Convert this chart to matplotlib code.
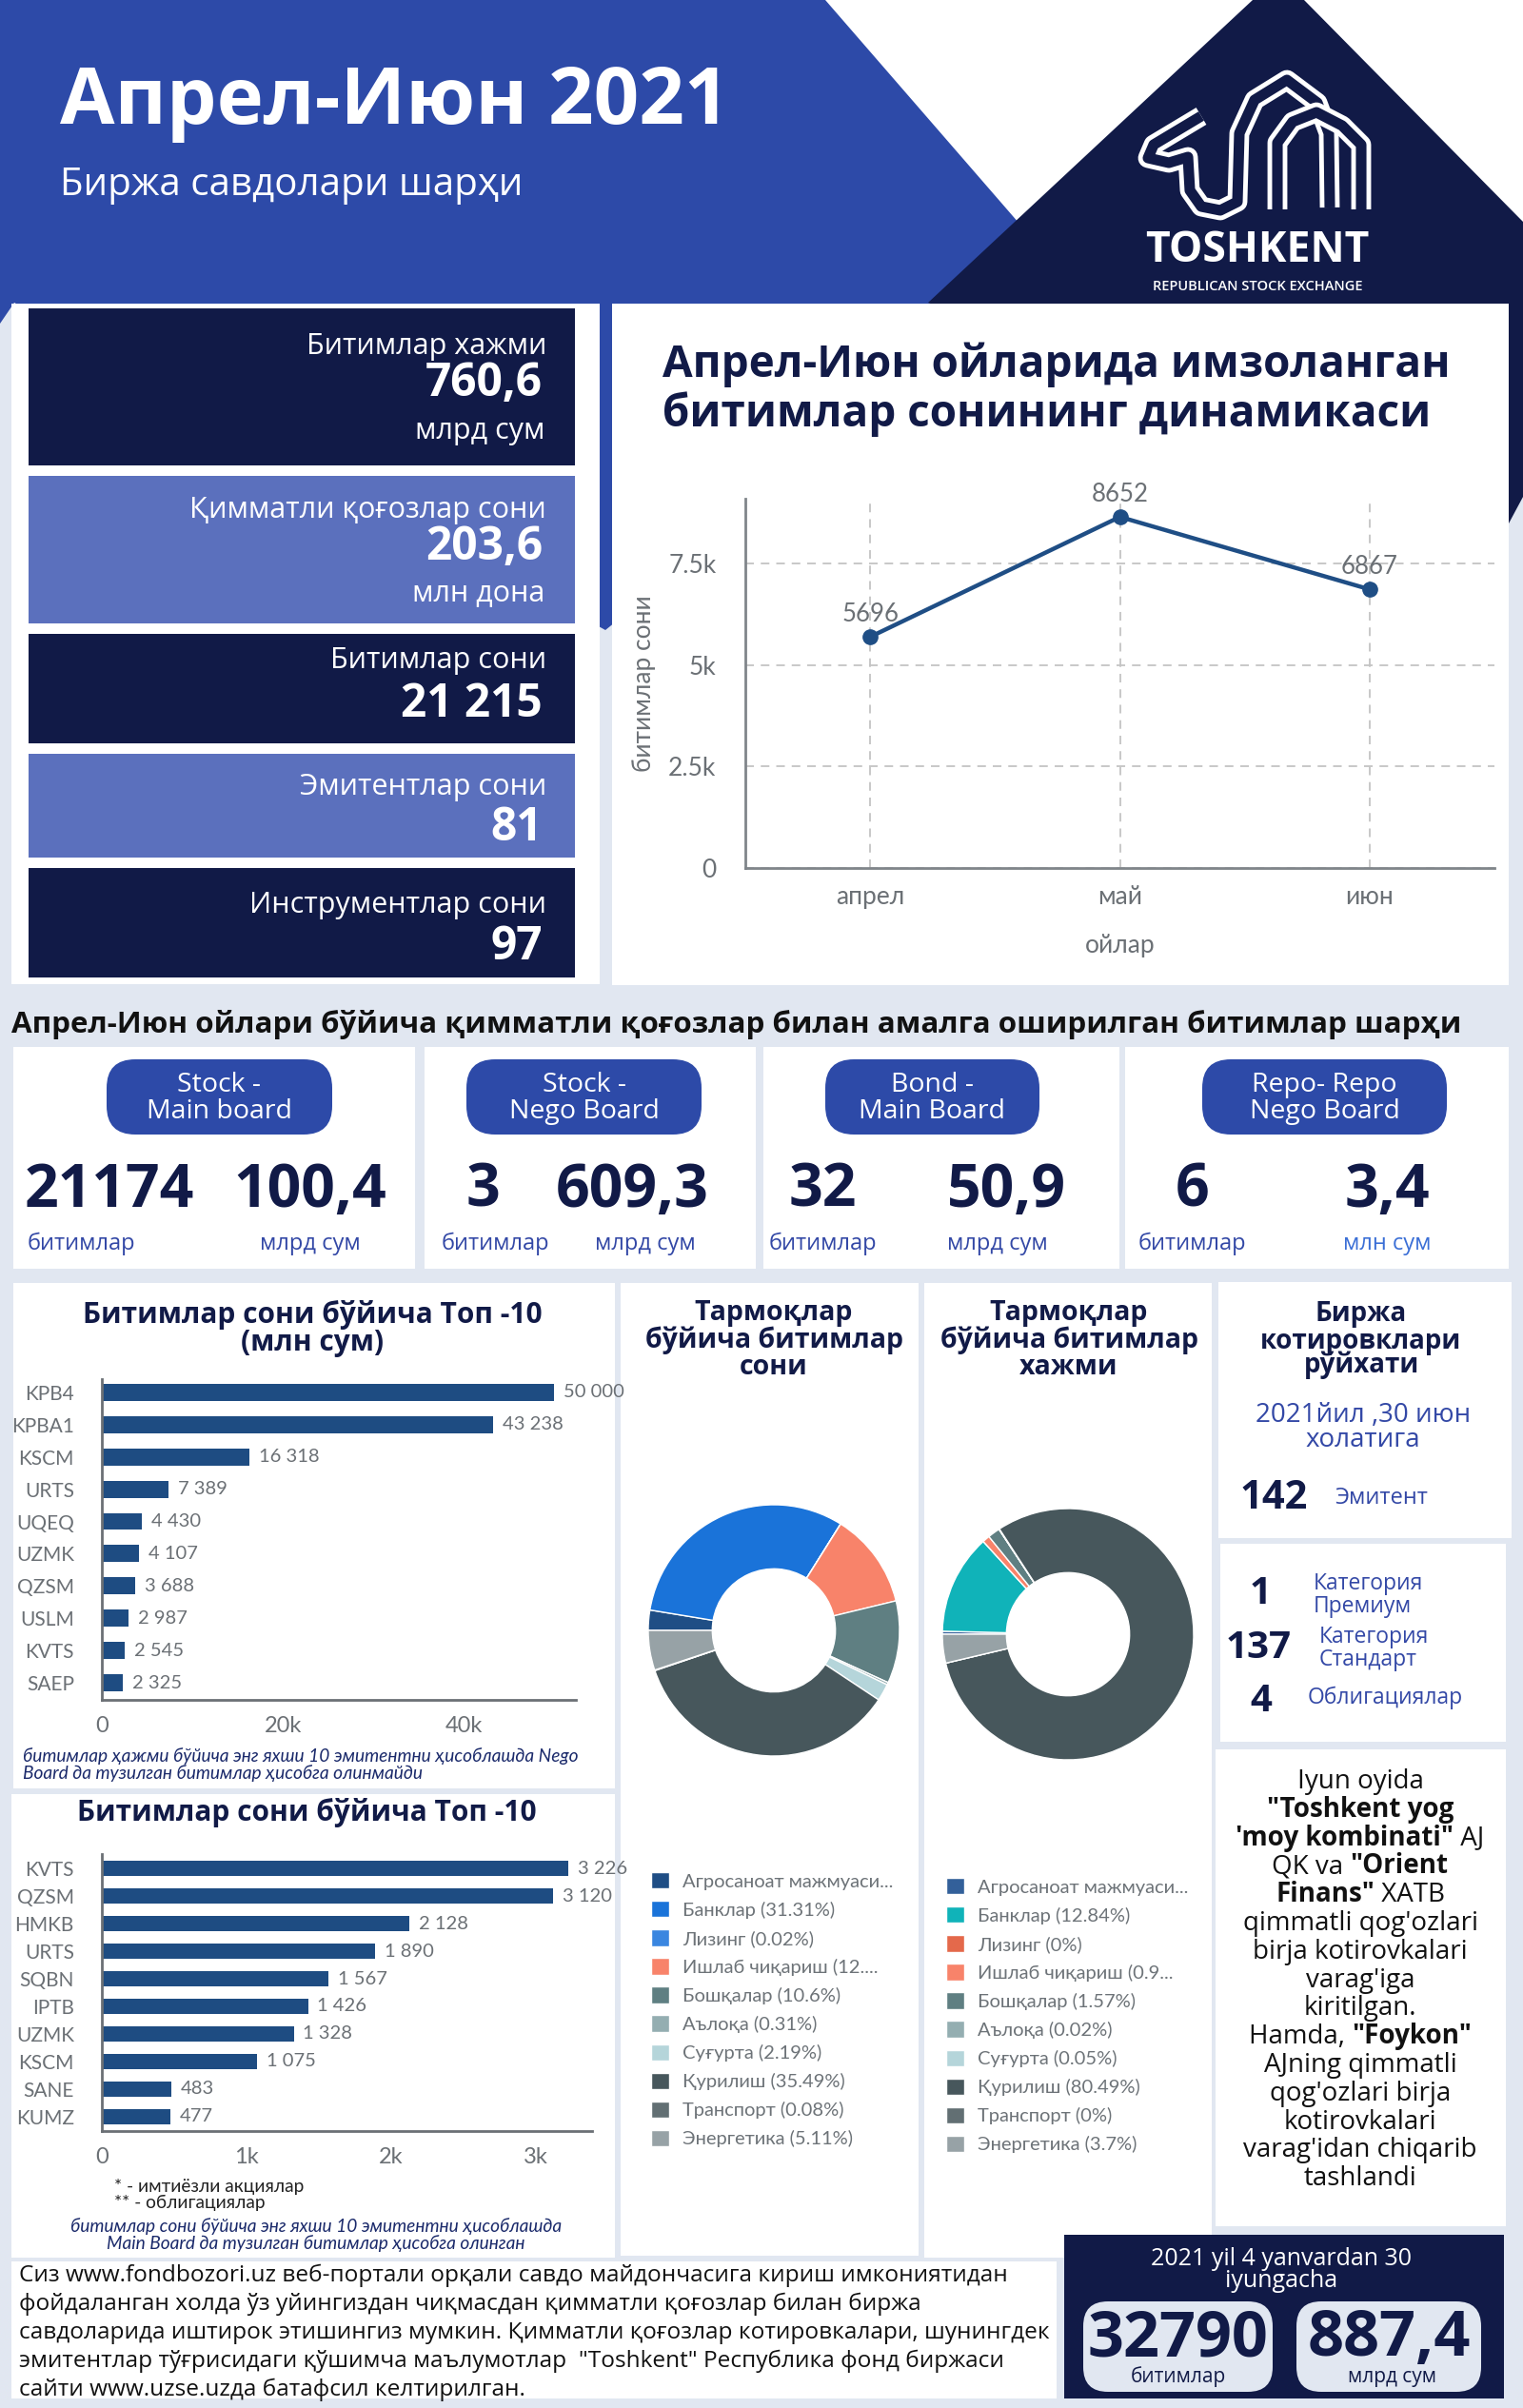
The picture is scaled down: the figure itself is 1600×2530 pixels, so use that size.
import matplotlib
matplotlib.use('Agg')
import matplotlib.pyplot as plt
from matplotlib.patches import Rectangle, Polygon, FancyBboxPatch
import numpy as np

plt.rcParams['font.family'] = ['Open Sans', 'DejaVu Sans']

W, H = 1600, 2530
PAGE = '#e1e7f1'
BLUE = '#2d4aa8'
NAVY = '#111a47'
SOFT = '#5b70bd'
BAR = '#1e4c82'
GREY = '#6b7075'
TXTBLUE = '#3348a6'
CHART_FONT = ['Lato', 'Roboto', 'DejaVu Sans']

# ---- data ----
months = ['апрел', 'май', 'июн']
deals_per_month = [5696, 8652, 6867]

volume_names = ['KPB4', 'KPBA1', 'KSCM', 'URTS', 'UQEQ', 'UZMK', 'QZSM', 'USLM', 'KVTS', 'SAEP']
volume_values = [50000, 43238, 16318, 7389, 4430, 4107, 3688, 2987, 2545, 2325]

count_names = ['KVTS', 'QZSM', 'HMKB', 'URTS', 'SQBN', 'IPTB', 'UZMK', 'KSCM', 'SANE', 'KUMZ']
count_values = [3226, 3120, 2128, 1890, 1567, 1426, 1328, 1075, 483, 477]

count_share = [2.6, 31.31, 0.02, 12.29, 10.6, 0.31, 2.19, 35.49, 0.08, 5.11]
count_colors = ['#1f4e85', '#1a73d9', '#3a86e0', '#f8836a', '#5f7f82',
                '#94aeb1', '#b5d5da', '#47575c', '#626f73', '#97a2a6']
count_legend = ['Агросаноат мажмуаси...', 'Банклар (31.31%)', 'Лизинг (0.02%)',
                'Ишлаб чиқариш (12....', 'Бошқалар (10.6%)', 'Аълоқа (0.31%)',
                'Суғурта (2.19%)', 'Қурилиш (35.49%)', 'Транспорт (0.08%)',
                'Энергетика (5.11%)']

volume_share = [0.38, 12.84, 0.0, 0.95, 1.57, 0.02, 0.05, 80.49, 0.0, 3.7]
volume_colors = ['#33609a', '#10b3b9', '#e4694b', '#f8836a', '#5f7f82',
                 '#94aeb1', '#b5d5da', '#47575c', '#626f73', '#97a2a6']
volume_legend = ['Агросаноат мажмуаси...', 'Банклар (12.84%)', 'Лизинг (0%)',
                 'Ишлаб чиқариш (0.9...', 'Бошқалар (1.57%)', 'Аълоқа (0.02%)',
                 'Суғурта (0.05%)', 'Қурилиш (80.49%)', 'Транспорт (0%)',
                 'Энергетика (3.7%)']

summary_labels = ['Битимлар хажми', 'Қимматли қоғозлар сони', 'Битимлар сони',
                  'Эмитентлар сони', 'Инструментлар сони']
summary_values = ['760,6', '203,6', '21 215', '81', '97']
summary_units = ['млрд сум', 'млн дона', '', '', '']

boards = ['Stock -\nMain board', 'Stock -\nNego Board', 'Bond -\nMain Board', 'Repo- Repo\nNego Board']
board_deals = ['21174', '3', '32', '6']
board_amounts = ['100,4', '609,3', '50,9', '3,4']
board_units = ['млрд сум', 'млрд сум', 'млрд сум', 'млн сум']

listing_rows = [('1', 'Категория\nПремиум'), ('137', 'Категория\nСтандарт'), ('4', 'Облигациялар')]

news_lines = [
    [('Iyun oyida', False)],
    [('"Toshkent yog', True)],
    [("'moy kombinati\"", True), (' AJ', False)],
    [('QK va ', False), ('"Orient', True)],
    [('Finans"', True), (' XATB', False)],
    [("qimmatli qog'ozlari", False)],
    [('birja kotirovkalari', False)],
    [("varag'iga", False)],
    [('kiritilgan.', False)],
    [('Hamda, ', False), ('"Foykon"', True)],
    [('AJning qimmatli', False)],
    [("qog'ozlari birja", False)],
    [('kotirovkalari', False)],
    [("varag'idan chiqarib", False)],
    [('tashlandi', False)],
]

paragraph = [
    'Сиз www.fondbozori.uz веб-портали орқали савдо майдончасига кириш имкониятидан',
    'фойдаланган холда ўз уйингиздан чиқмасдан қимматли қоғозлар билан биржа',
    'савдоларида иштирок этишингиз мумкин. Қимматли қоғозлар котировкалари, шунингдек',
    'эмитентлар тўғрисидаги қўшимча маълумотлар  "Toshkent" Республика фонд биржаси',
    'сайти www.uzse.uzда батафсил келтирилган.',
]

fig = plt.figure(figsize=(16, 25.3), dpi=100)
fig.patch.set_facecolor(PAGE)

bg = fig.add_axes([0, 0, 1, 1])
bg.set_xlim(0, W)
bg.set_ylim(H, 0)
bg.axis('off')


def box(x0, y0, x1, y1, color='white'):
    bg.add_patch(Rectangle((x0, y0), x1 - x0, y1 - y0, facecolor=color, edgecolor='none'))


def pill(x0, y0, x1, y1, color, r):
    bg.add_patch(FancyBboxPatch((x0, y0), x1 - x0, y1 - y0,
                                boxstyle='round,pad=0,rounding_size=%d' % r,
                                facecolor=color, edgecolor='none'))


def place(x0, y0, x1, y1):
    return fig.add_axes([x0 / W, 1 - y1 / H, (x1 - x0) / W, (y1 - y0) / H])


def txt(x, y, s, size, color=NAVY, weight='normal', ha='left', va='baseline', **kw):
    return bg.text(x, y, s, fontsize=size, color=color, fontweight=weight, ha=ha, va=va, **kw)


# ---- header ----
box(0, 0, W, 319, 'white')
bg.add_patch(Polygon([(0, 0), (867, 0), (1110, 280), (636, 662), (15, 318), (0, 340)],
                     closed=True, facecolor=BLUE, edgecolor='none'))
bg.add_patch(Polygon([(1316, 0), (1370, 0), (1600, 233), (1600, 522), (1585, 550), (975, 318)],
                     closed=True, facecolor=NAVY, edgecolor='none'))

txt(63, 130, 'Апрел-Июн 2021', 60, 'white', 'bold')
txt(63, 205, 'Биржа савдолари шарҳи', 29, 'white')

# logo
logo_paths = [
    [(1262, 122), (1212, 152), (1206, 166), (1228, 171), (1248, 165), (1250, 200),
     (1262, 217), (1282, 221), (1300, 212), (1302, 140), (1318, 105), (1352, 84),
     (1384, 108), (1396, 140), (1397, 218)],
    [(1342, 220), (1342, 150), (1358, 128), (1383, 118), (1410, 132), (1430, 152), (1430, 220)],
]
for p in logo_paths:
    xs, ys = zip(*p)
    bg.plot(xs, ys, color='white', lw=15, solid_joinstyle='round', solid_capstyle='butt')
    bg.plot(xs, ys, color=NAVY, lw=8, solid_joinstyle='round', solid_capstyle='butt')
txt(1321, 275, 'TOSHKENT', 32, 'white', 'bold', ha='center')
txt(1321, 305, 'REPUBLICAN STOCK EXCHANGE', 10.5, 'white', 'semibold', ha='center')

# ---- summary column ----
box(12, 319, 630, 1034)
summary_boxes = [(324, 489), (500, 655), (666, 781), (792, 901), (912, 1027)]
label_base = [372, 544, 702, 835, 959]
value_base = [416, 588, 753, 883, 1008]
unit_base = [461, 631, 0, 0, 0]
for i, (y0, y1) in enumerate(summary_boxes):
    box(30, y0, 604, y1, NAVY if i % 2 == 0 else SOFT)
    txt(574, label_base[i], summary_labels[i], 22, 'white', ha='right')
    txt(570, value_base[i], summary_values[i], 34.5, 'white', 'bold', ha='right')
    if summary_units[i]:
        txt(572, unit_base[i], summary_units[i], 22, 'white', ha='right')

# ---- line chart panel ----
box(643, 319, 1585, 1035)
txt(696, 396, 'Апрел-Июн ойларида имзоланган', 33, NAVY, 'bold')
txt(696, 448, 'битимлар сонининг динамикаси', 33, NAVY, 'bold')

ax = place(783, 524, 1570, 912)
xm = np.arange(len(months))
ax.plot(xm, deals_per_month, color='#1f4e85', lw=3.2, marker='o', ms=11, zorder=3)
for i, v in enumerate(deals_per_month):
    ax.annotate(str(v), (xm[i], v), xytext=(0, 17), textcoords='offset points',
                ha='center', va='center', fontsize=18.5, color=GREY, fontfamily=CHART_FONT)
ax.set_xlim(-0.5, 2.5)
ax.set_ylim(0, 9100)
ax.set_xticks(xm, labels=months, fontfamily=CHART_FONT)
ax.set_yticks([0, 2500, 5000, 7500], labels=['0', '2.5k', '5k', '7.5k'], fontfamily=CHART_FONT)
ax.grid(True, ls=(0, (5, 4)), color='#c4c4c4', lw=1.3)
ax.set_axisbelow(True)
for s in ['top', 'right']:
    ax.spines[s].set_visible(False)
for s in ['left', 'bottom']:
    ax.spines[s].set_color('#80858a')
    ax.spines[s].set_linewidth(2)
ax.tick_params(length=0, labelsize=19, labelcolor=GREY)
ax.tick_params(axis='y', pad=22)
ax.tick_params(axis='x', pad=13)
ax.set_facecolor('none')
ax.set_xlabel('ойлар', fontsize=19, color=GREY, fontfamily=CHART_FONT, va='center')
ax.xaxis.set_label_coords(0.5, -0.209)
ax.set_ylabel('битимлар сони', fontsize=19, color=GREY, fontfamily=CHART_FONT, va='center')
ax.yaxis.set_label_coords(-0.135, 0.5)

# ---- boards section ----
txt(12, 1085, 'Апрел-Июн ойлари бўйича қимматли қоғозлар билан амалга оширилган битимлар шарҳи',
    22.6, '#111111', 'bold')
board_boxes = [(14, 436), (446, 794), (802, 1176), (1182, 1585)]
pills = [(112, 349), (490, 737), (867, 1092), (1263, 1520)]
deals_x = [26, 490, 829, 1235]
amounts_x = [245, 584, 995, 1413]
unit1_x = [29, 464, 808, 1196]
unit2_x = [273, 625, 995, 1411]
for i in range(4):
    box(board_boxes[i][0], 1100, board_boxes[i][1], 1333)
    px0, px1 = pills[i]
    pill(px0, 1113, px1, 1192, BLUE, 30)
    bg.text((px0 + px1) / 2, 1154, boards[i], fontsize=20.5, color='white', ha='center',
            va='center', linespacing=1.0)
    txt(deals_x[i], 1268, board_deals[i], 45, NAVY, 'bold')
    txt(amounts_x[i], 1268, board_amounts[i], 45, NAVY, 'bold')
    txt(unit1_x[i], 1313, 'битимлар', 17, TXTBLUE)
    txt(unit2_x[i], 1313, board_units[i], 17, '#3b6fd6' if i == 3 else TXTBLUE)

# ---- panels of lower block ----
box(14, 1348, 646, 1879)
box(12, 1885, 646, 2372)
box(652, 1348, 965, 2370)
box(971, 1348, 1273, 2372)
box(1280, 1347, 1588, 1616)
box(1282, 1622, 1582, 1830)
box(1277, 1838, 1582, 2339)
box(12, 2376, 1110, 2520)
box(1118, 2348, 1580, 2520, NAVY)


def top10(ax, names, values, xmax, ticks, ticklabels):
    y = np.arange(len(names))
    ax.barh(y, values, height=0.53, color=BAR)
    for i, v in enumerate(values):
        ax.annotate(f'{v:,}'.replace(',', ' '), (v, y[i]), xytext=(7, 0),
                    textcoords='offset points', ha='left', va='center',
                    fontsize=14.5, color=GREY, fontfamily=CHART_FONT, annotation_clip=False)
    ax.set_xlim(0, xmax)
    ax.set_yticks(y, labels=names, fontfamily=CHART_FONT, fontsize=15)
    ax.set_xticks(ticks, labels=ticklabels, fontfamily=CHART_FONT, fontsize=17)
    for s in ['top', 'right']:
        ax.spines[s].set_visible(False)
    for s in ['left', 'bottom']:
        ax.spines[s].set_color('#6b7075')
        ax.spines[s].set_linewidth(2)
    ax.tick_params(length=0, labelcolor=GREY)
    ax.tick_params(axis='y', pad=21)
    ax.tick_params(axis='x', pad=12)
    ax.set_facecolor('none')


txt(328, 1390, 'Битимлар сони бўйича Топ -10', 21.5, NAVY, 'bold', ha='center')
txt(328, 1419, '(млн сум)', 21.5, NAVY, 'bold', ha='center')
ax1 = place(107, 1449, 605, 1786)
top10(ax1, volume_names, volume_values, 52400, [0, 20000, 40000], ['0', '20k', '40k'])
ax1.set_ylim(9.53, -0.41)
txt(24, 1851, 'битимлар ҳажми бўйича энг яхши 10 эмитентни ҳисоблашда Nego', 13.8, '#1b2a6b',
    style='italic', fontfamily=CHART_FONT)
txt(24, 1869, 'Board да тузилган битимлар ҳисобга олинмайди', 13.8, '#1b2a6b',
    style='italic', fontfamily=CHART_FONT)

txt(322, 1913, 'Битимлар сони бўйича Топ -10', 21.5, NAVY, 'bold', ha='center')
ax2 = place(107, 1948, 622, 2239)
top10(ax2, count_names, count_values, 3390, [0, 1000, 2000, 3000], ['0', '1k', '2k', '3k'])
ax2.set_ylim(9.52, -0.52)
txt(120, 2303, '* - имтиёзли акциялар', 13.8, '#222222', fontfamily=CHART_FONT)
txt(120, 2320, '** - облигациялар', 13.8, '#222222', fontfamily=CHART_FONT)
txt(332, 2345, 'битимлар сони бўйича энг яхши 10 эмитентни ҳисоблашда', 13.8, '#1b2a6b',
    ha='center', style='italic', fontfamily=CHART_FONT)
txt(332, 2363, 'Main Board да тузилган битимлар ҳисобга олинган', 13.8, '#1b2a6b',
    ha='center', style='italic', fontfamily=CHART_FONT)

# ---- donuts ----
for cx, title3 in [(813, 'сони'), (1123, 'хажми')]:
    txt(cx, 1387, 'Тармоқлар', 20.5, NAVY, 'bold', ha='center')
    txt(cx, 1416, 'бўйича битимлар', 20.5, NAVY, 'bold', ha='center')
    txt(cx, 1444, title3, 20.5, NAVY, 'bold', ha='center')


def donut(cx, cy, shares, colors, labels, leg_x, leg_y):
    r = 132
    ax = place(cx - r, cy - r, cx + r, cy + r)
    wedges, _ = ax.pie(shares, colors=colors, startangle=180, counterclock=False, radius=1,
                       wedgeprops=dict(width=0.51, edgecolor='white', linewidth=1))
    ax.set_xlim(-1, 1)
    ax.set_ylim(-1, 1)
    ax.legend(wedges, labels, loc='upper left', bbox_to_anchor=(leg_x / W, 1 - leg_y / H),
              bbox_transform=fig.transFigure, frameon=False,
              prop={'family': CHART_FONT, 'size': 14.5}, labelcolor='#6d7378',
              handlelength=0.95, handleheight=0.95, handletextpad=0.7,
              labelspacing=0.57, borderpad=0, borderaxespad=0)


donut(813, 1713, count_share, count_colors, count_legend, 684, 1967)
donut(1122, 1717, volume_share, volume_colors, volume_legend, 994, 1973)

# ---- listing panels ----
txt(1430, 1388, 'Биржа', 20, NAVY, 'bold', ha='center')
txt(1430, 1417, 'котировклари', 20, NAVY, 'bold', ha='center')
txt(1430, 1442, 'рўйхати', 20, NAVY, 'bold', ha='center')
txt(1432, 1494, '2021йил ,30 июн', 20, TXTBLUE, ha='center')
txt(1432, 1520, 'холатига', 20, TXTBLUE, ha='center')
txt(1303, 1585, '142', 30, NAVY, 'bold')
txt(1402, 1580, 'Эмитент', 17, TXTBLUE)

num_x = [1324, 1322, 1325]
num_base = [1685, 1742, 1798]
lab_x = [1380, 1386, 1374]
lab_y = [1676, 1732, 1790]
for i, (num, lab) in enumerate(listing_rows):
    txt(num_x[i], num_base[i], num, 29, NAVY, 'bold', ha='center')
    if '\n' in lab:
        bg.text(lab_x[i], lab_y[i], lab, fontsize=16.5, color=TXTBLUE, ha='left', va='center',
                linespacing=0.95)
    else:
        txt(lab_x[i], lab_y[i], lab, 16.5, TXTBLUE)

# news panel: lines with bold parts, centered
news_texts = []
for i, parts in enumerate(news_lines):
    row = []
    for s, bold in parts:
        row.append(txt(0, 1879 + i * 29.8, s, 20, '#111111', 'bold' if bold else 'normal'))
    news_texts.append(row)

# ---- bottom ----
for i, line in enumerate(paragraph):
    txt(20, 2397 + i * 30, line, 17.6, '#111111')

txt(1346, 2380, '2021 yil 4 yanvardan 30', 18, 'white', ha='center')
txt(1346, 2403, 'iyungacha', 18, 'white', ha='center')
pill(1138, 2418, 1337, 2513, PAGE, 26)
pill(1362, 2418, 1556, 2513, PAGE, 26)
txt(1237, 2475, '32790', 48, NAVY, 'bold', ha='center')
txt(1459, 2475, '887,4', 48, NAVY, 'bold', ha='center')
txt(1238, 2503, 'битимлар', 15, NAVY, ha='center')
txt(1462, 2503, 'млрд сум', 15, NAVY, ha='center')

# center mixed-weight lines
fig.canvas.draw()
renderer = fig.canvas.get_renderer()
for row in news_texts:
    widths = [t.get_window_extent(renderer).width for t in row]
    x = 1429 - sum(widths) / 2
    for t, w in zip(row, widths):
        t.set_x(x)
        x += w

fig.savefig('out.png', dpi=100, facecolor=PAGE)
